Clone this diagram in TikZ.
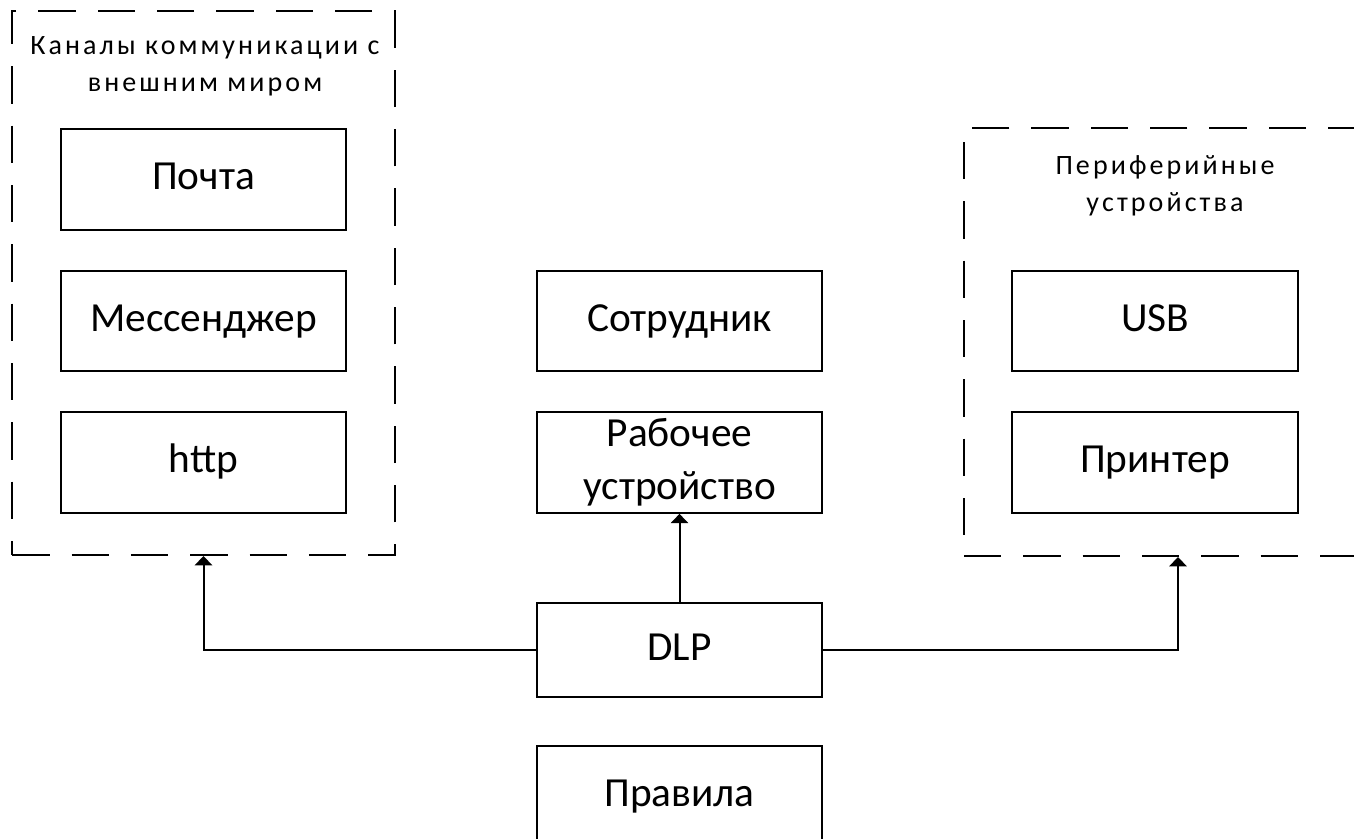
\documentclass[tikz,border=0pt]{standalone}
\usepackage{fontspec}
\setmainfont{Carlito}
\newfontfamily\spacedfont[LetterSpace=11]{Carlito}
\usetikzlibrary{arrows.meta, positioning}
\tikzstyle{box} = [draw, line width=1.5pt, minimum width=214pt, minimum height=75.5pt,
                   inner sep=2pt, align=center, font=\fontsize{31}{40}\selectfont]
\tikzstyle{onebox} = [box, text height=22pt, text depth=7pt]
\tikzstyle{group} = [draw, line width=1.5pt, dash pattern=on 28pt off 16.5pt]
\tikzstyle{grouptitle} = [align=center, font=\spacedfont\fontsize{21}{28}\selectfont]
\tikzstyle{arrow} = [line width=1.5pt, -{Triangle[width=13pt,length=7pt]}]

\begin{document}
\begin{tikzpicture}[x=0.75pt, y=-0.75pt]
    % Page frame
    \useasboundingbox (0,0) rectangle (1354,839);
    \clip (0,0) rectangle (1354,839);

    % Channel group (left)
    \node[group, minimum width=287pt, minimum height=408pt] (chan) at (203.5,283) {};
    \node[grouptitle] (chantitle) at (205,66) {Каналы коммуникации с\\внешним миром};
    \node[onebox] (mail) at (203.5,179.5) {Почта};
    \node[onebox] (msg)  at (203.5,321)   {Мессенджер};
    \node[onebox] (http) at (203.5,462.5) {http};

    % Centre column
    \node[onebox] (emp)  at (679.5,321)   {Сотрудник};
    \node[box]    (work) at (679.5,462.5) {Рабочее\\устройство};
    \node[onebox, minimum height=70.5pt] (dlp) at (679.5,650) {DLP};
    \node[onebox] (rules) at (679.5,796.5) {Правила};

    % Peripheral group (right)
    \node[group, minimum width=301.5pt, minimum height=321pt] (peri) at (1165,342) {};
    \node[grouptitle] (perititle) at (1165,186) {Периферийные\\устройства};
    \node[onebox] (usb)     at (1155,321)   {USB};
    \node[onebox] (printer) at (1155,462.5) {Принтер};

    % Connectors
    \coordinate (periin) at ([xshift=9.75pt]peri.south);
    \draw[arrow] (dlp.north) -- (work.south);
    \draw[arrow] (dlp.west) -| (chan.south);
    \draw[arrow] (dlp.east) -| (periin);
\end{tikzpicture}
\end{document}
